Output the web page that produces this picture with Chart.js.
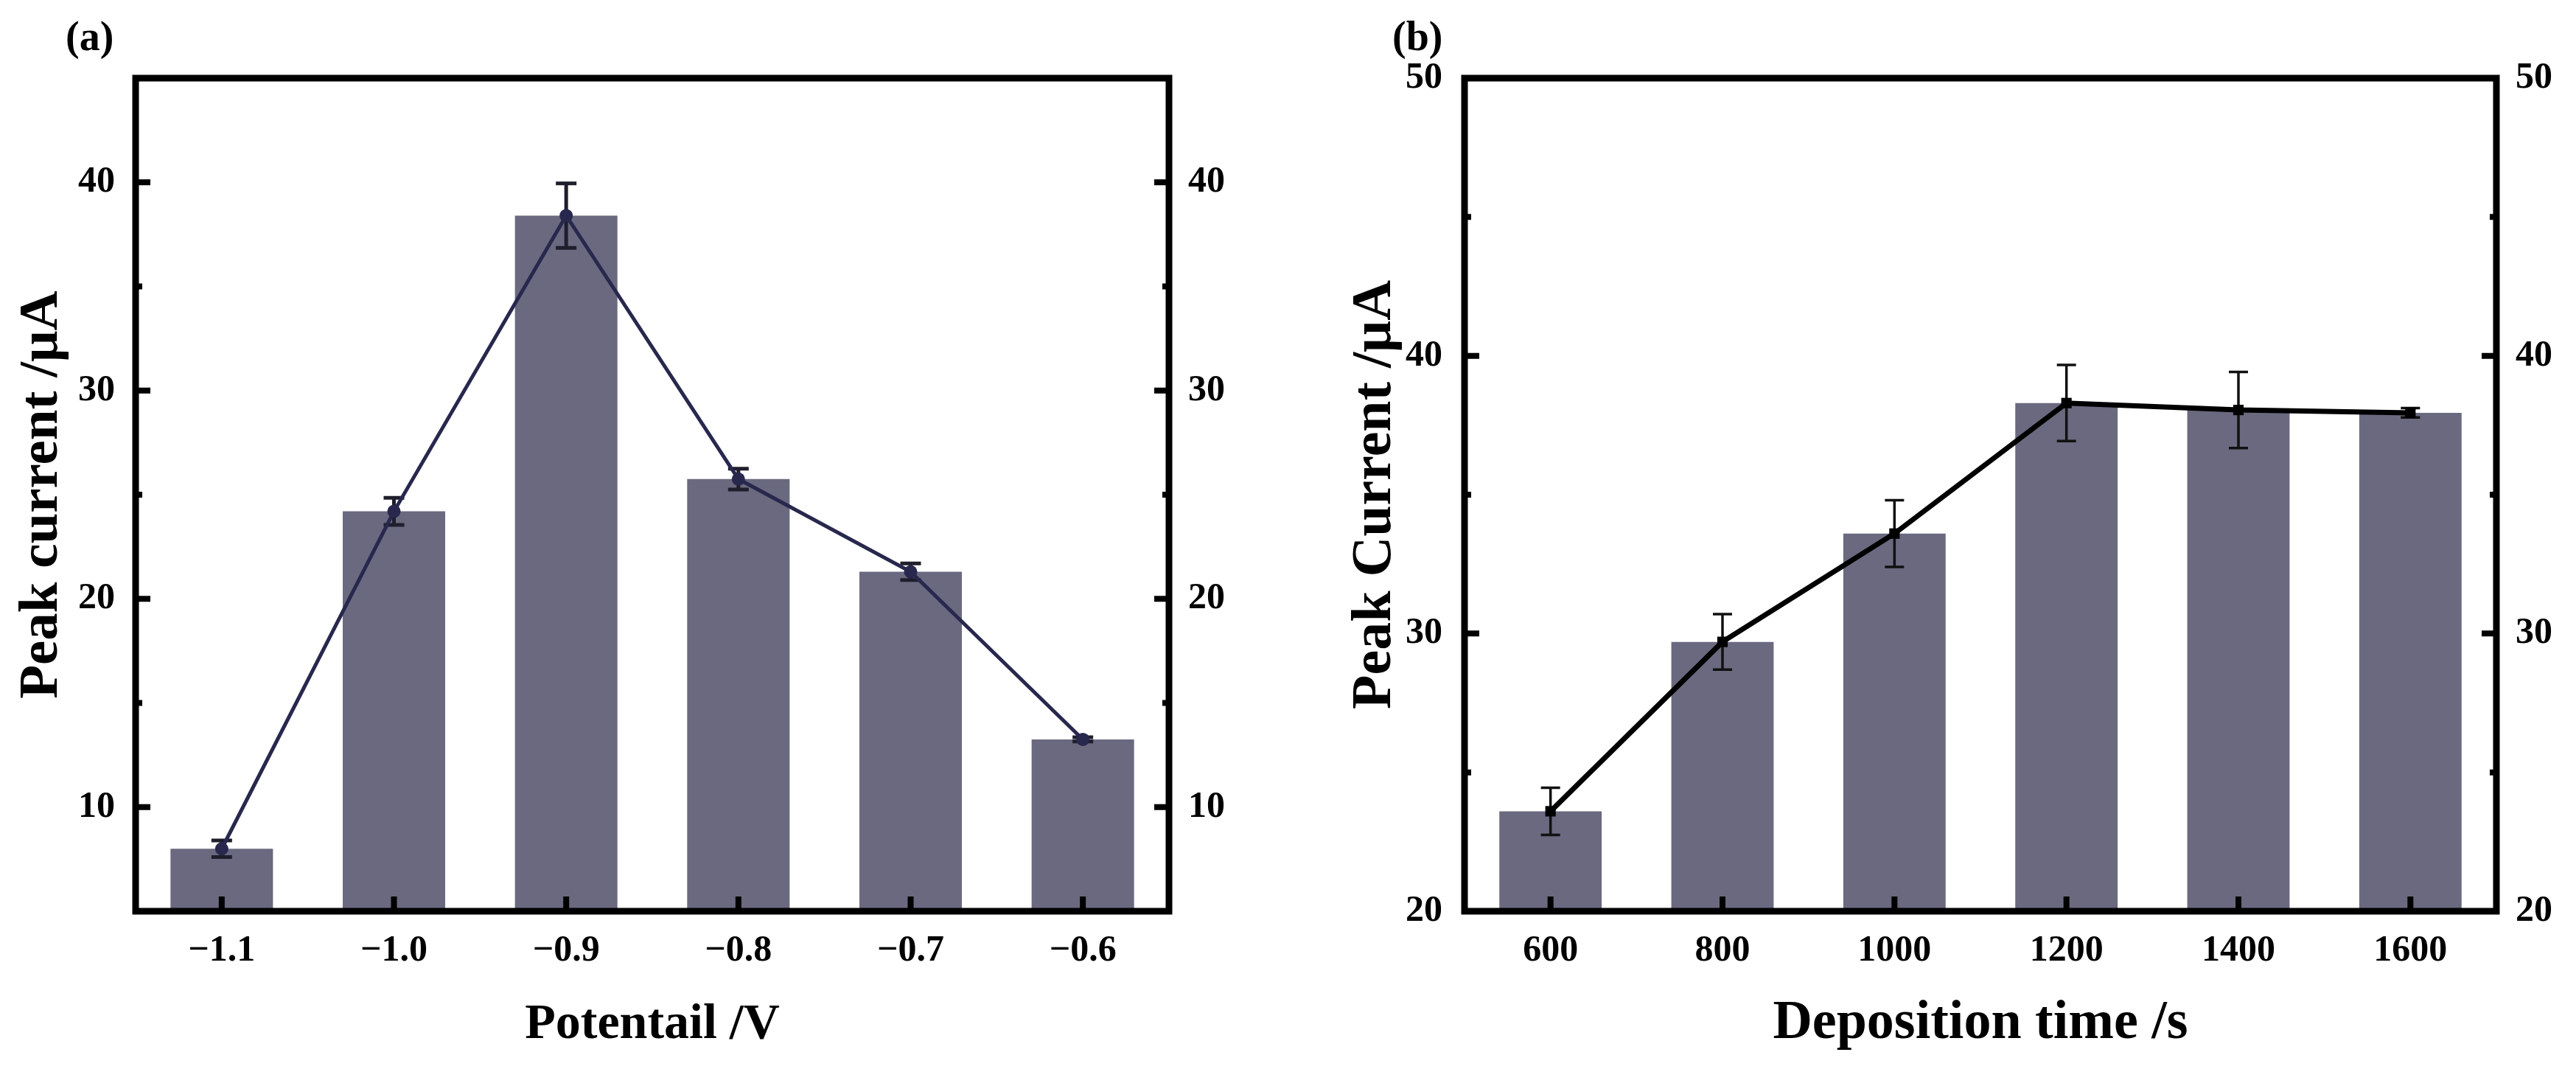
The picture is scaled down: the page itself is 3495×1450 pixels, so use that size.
<!DOCTYPE html>
<html>
<head>
<meta charset="utf-8">
<script src="https://cdn.jsdelivr.net/npm/chart.js@4.4.1/dist/chart.umd.min.js"></script>
<style>
    html, body { margin: 0; padding: 0; background: #fff; }
    #wrap { position: relative; width: 3495px; height: 1450px; }
    canvas { position: absolute; top: 0; }
    #chart-a { left: 0; }
    #chart-b { left: 1750px; }
</style>
</head>
<body>
<div id="wrap">
    <canvas id="chart-a" width="1750" height="1450"></canvas>
    <canvas id="chart-b" width="1745" height="1450"></canvas>
</div>
<script>
"use strict";

// panel (a): potential
const potentials = ['\u22121.1', '\u22121.0', '\u22120.9', '\u22120.8', '\u22120.7', '\u22120.6'];
const currentA = [8.0, 24.2, 38.4, 25.75, 21.3, 13.25];
const errorA = [0.4, 0.65, 1.55, 0.5, 0.4, 0.1];

// panel (b): deposition time
const depTimes = ['600', '800', '1000', '1200', '1400', '1600'];
const currentB = [23.6, 29.7, 33.6, 38.3, 38.05, 37.95];
const errorB = [0.85, 1.0, 1.2, 1.37, 1.37, 0.17];

const FONT = '"Liberation Serif", "Times New Roman", serif';
const BAR_COLOR = 'rgb(106, 105, 127)';

Chart.defaults.font.family = FONT;
Chart.defaults.font.weight = 'bold';
Chart.defaults.color = '#000';

// frame + inward ticks + error bars + texts
const figurePlugin = {
    id: 'figure',
    afterDatasetDraw(chart, args) {
        if (args.index !== 0) return;
        const o = chart.options.plugins.figure;
        const ctx = chart.ctx;
        const y = chart.scales.y;
        const bars = chart.getDatasetMeta(0).data;
        ctx.save();
        ctx.strokeStyle = o.errColor;
        ctx.lineWidth = o.errWidth;
        bars.forEach((b, i) => {
            const v = o.values[i], e = o.errors[i];
            const top = y.getPixelForValue(v + e);
            const bot = y.getPixelForValue(v - e);
            const cw = o.capWidth / 2;
            ctx.beginPath();
            ctx.moveTo(b.x, top); ctx.lineTo(b.x, bot);
            ctx.moveTo(b.x - cw, top); ctx.lineTo(b.x + cw, top);
            ctx.moveTo(b.x - cw, bot); ctx.lineTo(b.x + cw, bot);
            ctx.stroke();
        });
        ctx.restore();
    },
    afterDraw(chart) {
        const o = chart.options.plugins.figure;
        const ctx = chart.ctx;
        const a = chart.chartArea;
        ctx.save();
        ctx.strokeStyle = '#000';
        ctx.lineWidth = 9;
        ctx.strokeRect(a.left, a.top, a.right - a.left, a.bottom - a.top);

        ctx.lineWidth = 8;
        ctx.beginPath();
        ['y', 'y2'].forEach(id => {
            const s = chart.scales[id];
            const x0 = id === 'y' ? a.left : a.right;
            const dir = id === 'y' ? 1 : -1;
            s.ticks.forEach(t => {
                const py = s.getPixelForValue(t.value);
                if (py <= a.top + 2 || py >= a.bottom - 2) return;
                const len = t.value % 10 === 0 ? 20 : 9;
                ctx.moveTo(x0, py);
                ctx.lineTo(x0 + dir * len, py);
            });
        });
        const xs = chart.scales.x;
        xs.ticks.forEach((t, i) => {
            const px = xs.getPixelForTick(i);
            ctx.moveTo(px, a.bottom);
            ctx.lineTo(px, a.bottom - 20);
        });
        ctx.stroke();

        ctx.fillStyle = '#000';
        ctx.textBaseline = 'alphabetic';
        ctx.textAlign = 'left';
        ctx.font = 'bold 56px ' + FONT;
        ctx.fillText(o.panel, o.panelX, 68);

        ctx.textAlign = 'center';
        ctx.font = 'bold ' + o.xTitleSize + 'px ' + FONT;
        ctx.fillText(o.xTitle, (a.left + a.right) / 2, 1408);

        ctx.translate(o.yTitleX, (a.top + a.bottom) / 2);
        ctx.rotate(-Math.PI / 2);
        ctx.font = 'bold ' + o.yTitleSize + 'px ' + FONT;
        ctx.fillText(o.yTitle, 0, 0);
        ctx.restore();
    }
};

function makeChart(id, labels, values, errors, opts) {
    const ctx = document.getElementById(id).getContext('2d');
    const tickFont = { size: 50, weight: 'bold', family: FONT };
    const yTicks = {
        stepSize: 5,
        font: tickFont,
        color: '#000',
        callback: v => (v % 10 === 0 ? v : '')
    };
    return new Chart(ctx, {
        type: 'bar',
        data: {
            labels: labels,
            datasets: [{
                type: 'bar',
                data: values,
                backgroundColor: BAR_COLOR,
                barPercentage: 0.595,
                categoryPercentage: 1.0,
                order: 2
            }, {
                type: 'line',
                data: values,
                borderColor: opts.lineColor,
                backgroundColor: opts.lineColor,
                borderWidth: opts.lineWidth,
                pointStyle: opts.pointStyle,
                pointRadius: opts.pointRadius,
                pointBorderWidth: 0,
                tension: 0,
                order: 1
            }]
        },
        options: {
            responsive: false,
            devicePixelRatio: 1,
            animation: false,
            layout: { padding: { top: 106, left: 0, right: 0, bottom: 0 } },
            scales: {
                x: {
                    grid: { display: false, drawTicks: false },
                    border: { display: false },
                    ticks: { font: tickFont, color: '#000', padding: 24, maxRotation: 0 },
                    afterFit: s => { s.height = 214; }
                },
                y: {
                    position: 'left',
                    min: opts.min,
                    max: opts.max,
                    grid: { display: false, drawTicks: false },
                    border: { display: false },
                    ticks: Object.assign({ padding: opts.leftPad }, yTicks),
                    afterFit: s => { s.width = opts.leftWidth; }
                },
                y2: {
                    position: 'right',
                    min: opts.min,
                    max: opts.max,
                    grid: { display: false, drawTicks: false },
                    border: { display: false },
                    ticks: Object.assign({ padding: 26 }, yTicks),
                    afterFit: s => { s.width = opts.rightWidth; }
                }
            },
            plugins: {
                legend: { display: false },
                tooltip: { enabled: false },
                figure: {
                    values: values,
                    errors: errors,
                    errColor: opts.errColor,
                    errWidth: opts.errWidth,
                    capWidth: opts.capWidth,
                    panel: opts.panel,
                    panelX: opts.panelX,
                    xTitle: opts.xTitle,
                    xTitleSize: opts.xTitleSize,
                    yTitle: opts.yTitle,
                    yTitleSize: opts.yTitleSize,
                    yTitleX: opts.yTitleX
                }
            }
        },
        plugins: [figurePlugin]
    });
}

const chartA = makeChart('chart-a', potentials, currentA, errorA, {
    min: 5, max: 45,
    leftWidth: 184, rightWidth: 164, leftPad: 28,
    lineColor: 'rgb(40, 40, 78)', lineWidth: 5, pointStyle: 'circle', pointRadius: 9,
    errColor: '#1e1e2c', errWidth: 5, capWidth: 28,
    panel: '(a)', panelX: 89,
    xTitle: 'Potentail /V', xTitleSize: 68,
    yTitle: 'Peak current /\u03bcA', yTitleSize: 75, yTitleX: 77
});

const chartB = makeChart('chart-b', depTimes, currentB, errorB, {
    min: 20, max: 50,
    leftWidth: 237, rightWidth: 108, leftPad: 30,
    lineColor: '#000', lineWidth: 7, pointStyle: 'rect', pointRadius: 10,
    errColor: '#111', errWidth: 3.5, capWidth: 26,
    panel: '(b)', panelX: 139,
    xTitle: 'Deposition time /s', xTitleSize: 74,
    yTitle: 'Peak Current /\u03bcA', yTitleSize: 76, yTitleX: 136
});
</script>
</body>
</html>
